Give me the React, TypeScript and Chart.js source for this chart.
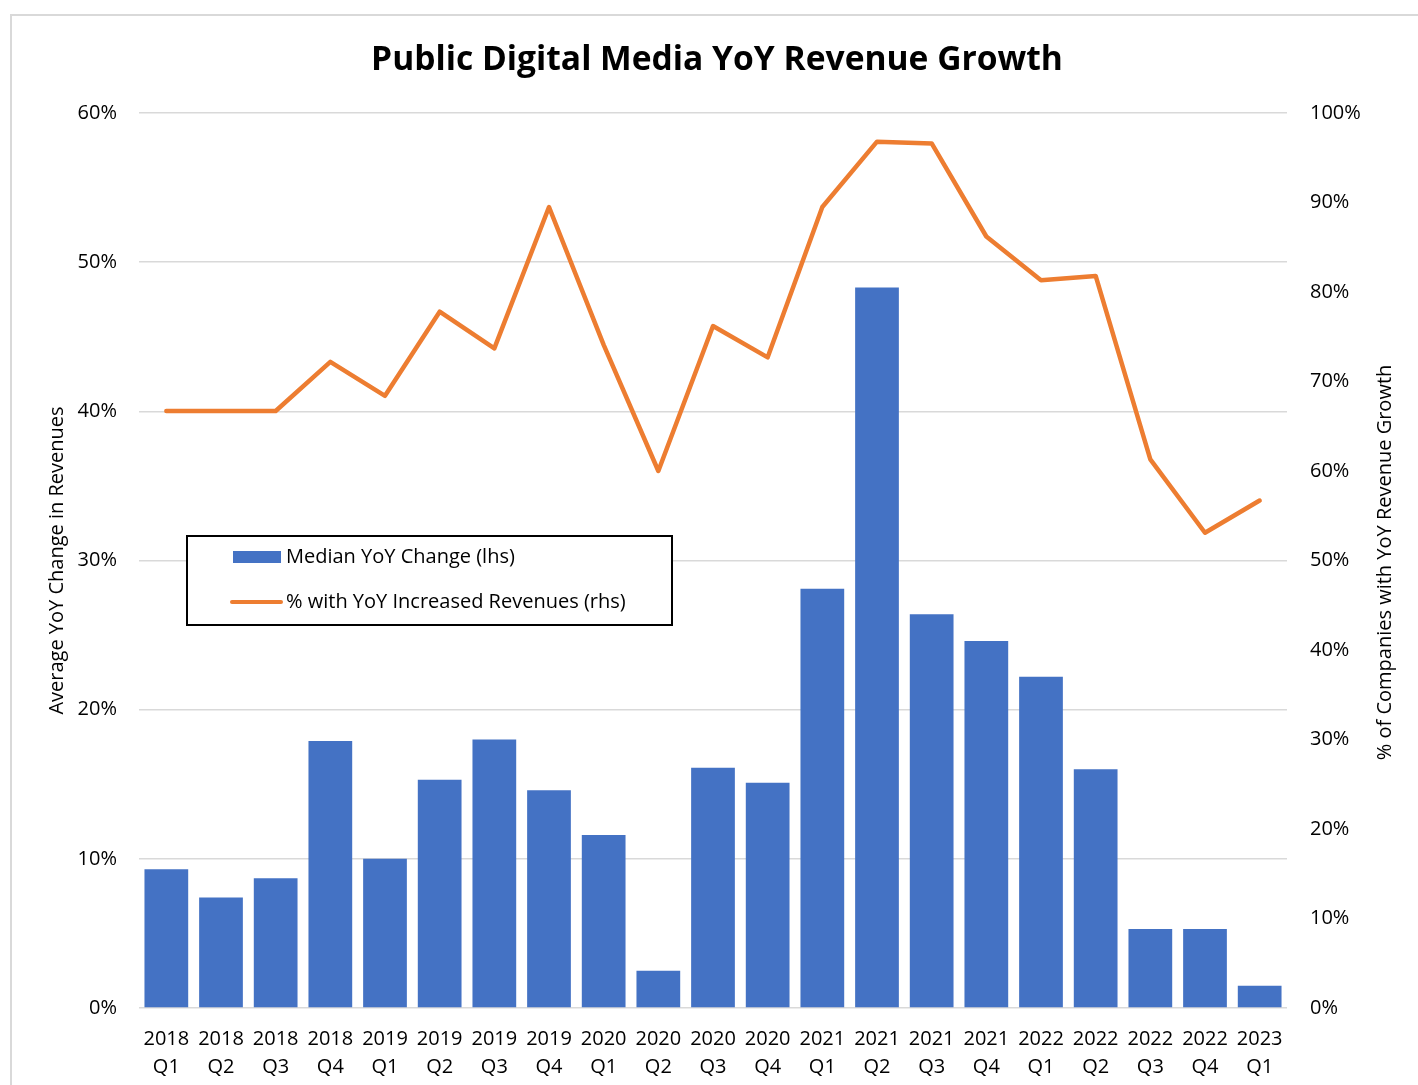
import React, { useEffect, useRef } from 'react';
import { Chart, registerables } from 'chart.js';

Chart.register(...registerables);

const categories: string[][] = [
  ['2018', 'Q1'], ['2018', 'Q2'], ['2018', 'Q3'], ['2018', 'Q4'],
  ['2019', 'Q1'], ['2019', 'Q2'], ['2019', 'Q3'], ['2019', 'Q4'],
  ['2020', 'Q1'], ['2020', 'Q2'], ['2020', 'Q3'], ['2020', 'Q4'],
  ['2021', 'Q1'], ['2021', 'Q2'], ['2021', 'Q3'], ['2021', 'Q4'],
  ['2022', 'Q1'], ['2022', 'Q2'], ['2022', 'Q3'], ['2022', 'Q4'],
  ['2023', 'Q1'],
];

const medianYoY: number[] = [
  9.3, 7.4, 8.7, 17.9, 10.0, 15.3, 18.0, 14.6, 11.6, 2.5, 16.1,
  15.1, 28.1, 48.3, 26.4, 24.6, 22.2, 16.0, 5.3, 5.3, 1.5,
];

const pctIncreased: number[] = [
  66.7, 66.7, 66.7, 72.2, 68.4, 77.8, 73.7, 89.5, 74.1, 60.0, 76.2,
  72.7, 89.5, 96.8, 96.6, 86.2, 81.3, 81.8, 61.3, 53.1, 56.7,
];

const titleText = 'Public Digital Media YoY Revenue Growth';
const leftAxisTitle = 'Average YoY Change in Revenues';
const rightAxisTitle = '% of Companies with YoY Revenue Growth';
const legendBar = 'Median YoY Change (lhs)';
const legendLine = '% with YoY Increased Revenues (rhs)';

const BLUE = '#4472C4';
const ORANGE = '#ED7D31';
const FONT = '"Open Sans", "Noto Sans", sans-serif';

const decor = {
  id: 'decor',
  beforeDraw(chart: any) {
    const ctx = chart.ctx;
    ctx.save();
    ctx.fillStyle = '#ffffff';
    ctx.fillRect(0, 0, chart.width, chart.height);
    ctx.strokeStyle = '#d9d9d9';
    ctx.lineWidth = 2;
    ctx.strokeRect(11, 15, chart.width + 40, chart.height + 40);
    ctx.restore();
  },
  afterDraw(chart: any) {
    const ctx = chart.ctx;
    const area = chart.chartArea;
    ctx.save();
    // title
    let size = 34;
    ctx.font = `bold ${size}px ${FONT}`;
    const w = ctx.measureText(titleText).width;
    size = Math.min(34, (size * 692) / w);
    ctx.font = `bold ${size}px ${FONT}`;
    ctx.fillStyle = '#000';
    ctx.textAlign = 'center';
    ctx.textBaseline = 'alphabetic';
    ctx.fillText(titleText, 717, 70);

    // right axis title (reads bottom to top)
    ctx.save();
    ctx.translate(1385, (area.top + area.bottom) / 2 + 2);
    ctx.rotate(-Math.PI / 2);
    ctx.font = `20px ${FONT}`;
    ctx.textAlign = 'center';
    ctx.textBaseline = 'middle';
    ctx.fillText(rightAxisTitle, 0, 0);
    ctx.restore();

    // legend
    ctx.fillStyle = '#fff';
    ctx.fillRect(187, 536, 485, 89);
    ctx.strokeStyle = '#000';
    ctx.lineWidth = 2;
    ctx.strokeRect(187, 536, 485, 89);
    ctx.fillStyle = BLUE;
    ctx.fillRect(233, 551, 48, 12);
    ctx.strokeStyle = ORANGE;
    ctx.lineWidth = 4;
    ctx.lineCap = 'round';
    ctx.beginPath();
    ctx.moveTo(232, 602);
    ctx.lineTo(281, 602);
    ctx.stroke();
    ctx.fillStyle = '#000';
    ctx.textAlign = 'left';
    ctx.textBaseline = 'alphabetic';
    ctx.font = `20px ${FONT}`;
    ctx.fillText(legendBar, 286, 563);
    ctx.fillText(legendLine, 286, 608);
    ctx.restore();
  },
};

export default function App() {
  const ref = useRef<HTMLCanvasElement | null>(null);

  useEffect(() => {
    document.body.style.margin = '0';
    if (!ref.current) return;
    const chart = new Chart(ref.current, {
      type: 'bar',
      data: {
        labels: categories,
        datasets: [
          {
            type: 'line',
            label: legendLine,
            data: pctIncreased,
            yAxisID: 'y1',
            borderColor: ORANGE,
            backgroundColor: ORANGE,
            borderWidth: 4.5,
            pointRadius: 0,
            tension: 0,
            borderJoinStyle: 'round',
            borderCapStyle: 'round',
            order: 0,
          } as any,
          {
            type: 'bar',
            label: legendBar,
            data: medianYoY,
            yAxisID: 'y',
            backgroundColor: BLUE,
            barPercentage: 0.8,
            categoryPercentage: 1,
            order: 1,
          },
        ],
      },
      options: {
        responsive: false,
        animation: false,
        layout: { padding: { top: 113, left: 0, right: 0, bottom: 0 } },
        plugins: {
          legend: { display: false },
          title: { display: false },
          tooltip: { enabled: false },
        },
        scales: {
          x: {
            grid: { display: false, drawTicks: false },
            border: { display: false },
            ticks: {
              color: '#000',
              font: { family: FONT, size: 20, lineHeight: 1.4 },
              padding: 17,
              maxRotation: 0,
              autoSkip: false,
            },
            afterFit(scale: any) {
              scale.height = 77;
            },
          },
          y: {
            position: 'left',
            min: 0,
            max: 60,
            grid: { color: '#d9d9d9', lineWidth: 1.5, drawTicks: false },
            border: { display: false },
            ticks: {
              stepSize: 10,
              color: '#000',
              font: { family: FONT, size: 20 },
              padding: 22,
              callback: (v: any) => `${v}%`,
            },
            title: {
              display: true,
              text: leftAxisTitle,
              color: '#000',
              font: { family: FONT, size: 20 },
              padding: { top: 45, bottom: 0 },
            },
            afterFit(scale: any) {
              scale.width = 139;
            },
          },
          y1: {
            position: 'right',
            min: 0,
            max: 100,
            grid: { display: false, drawTicks: false },
            border: { display: false },
            ticks: {
              stepSize: 10,
              color: '#000',
              font: { family: FONT, size: 20 },
              padding: 23,
              callback: (v: any) => `${v}%`,
            },
            afterFit(scale: any) {
              scale.width = 131;
            },
          },
        },
      },
      plugins: [decor],
    });
    return () => chart.destroy();
  }, []);

  return (
    <canvas
      ref={ref}
      width={1418}
      height={1085}
      style={{ display: 'block', width: 1418, height: 1085 }}
    />
  );
}
